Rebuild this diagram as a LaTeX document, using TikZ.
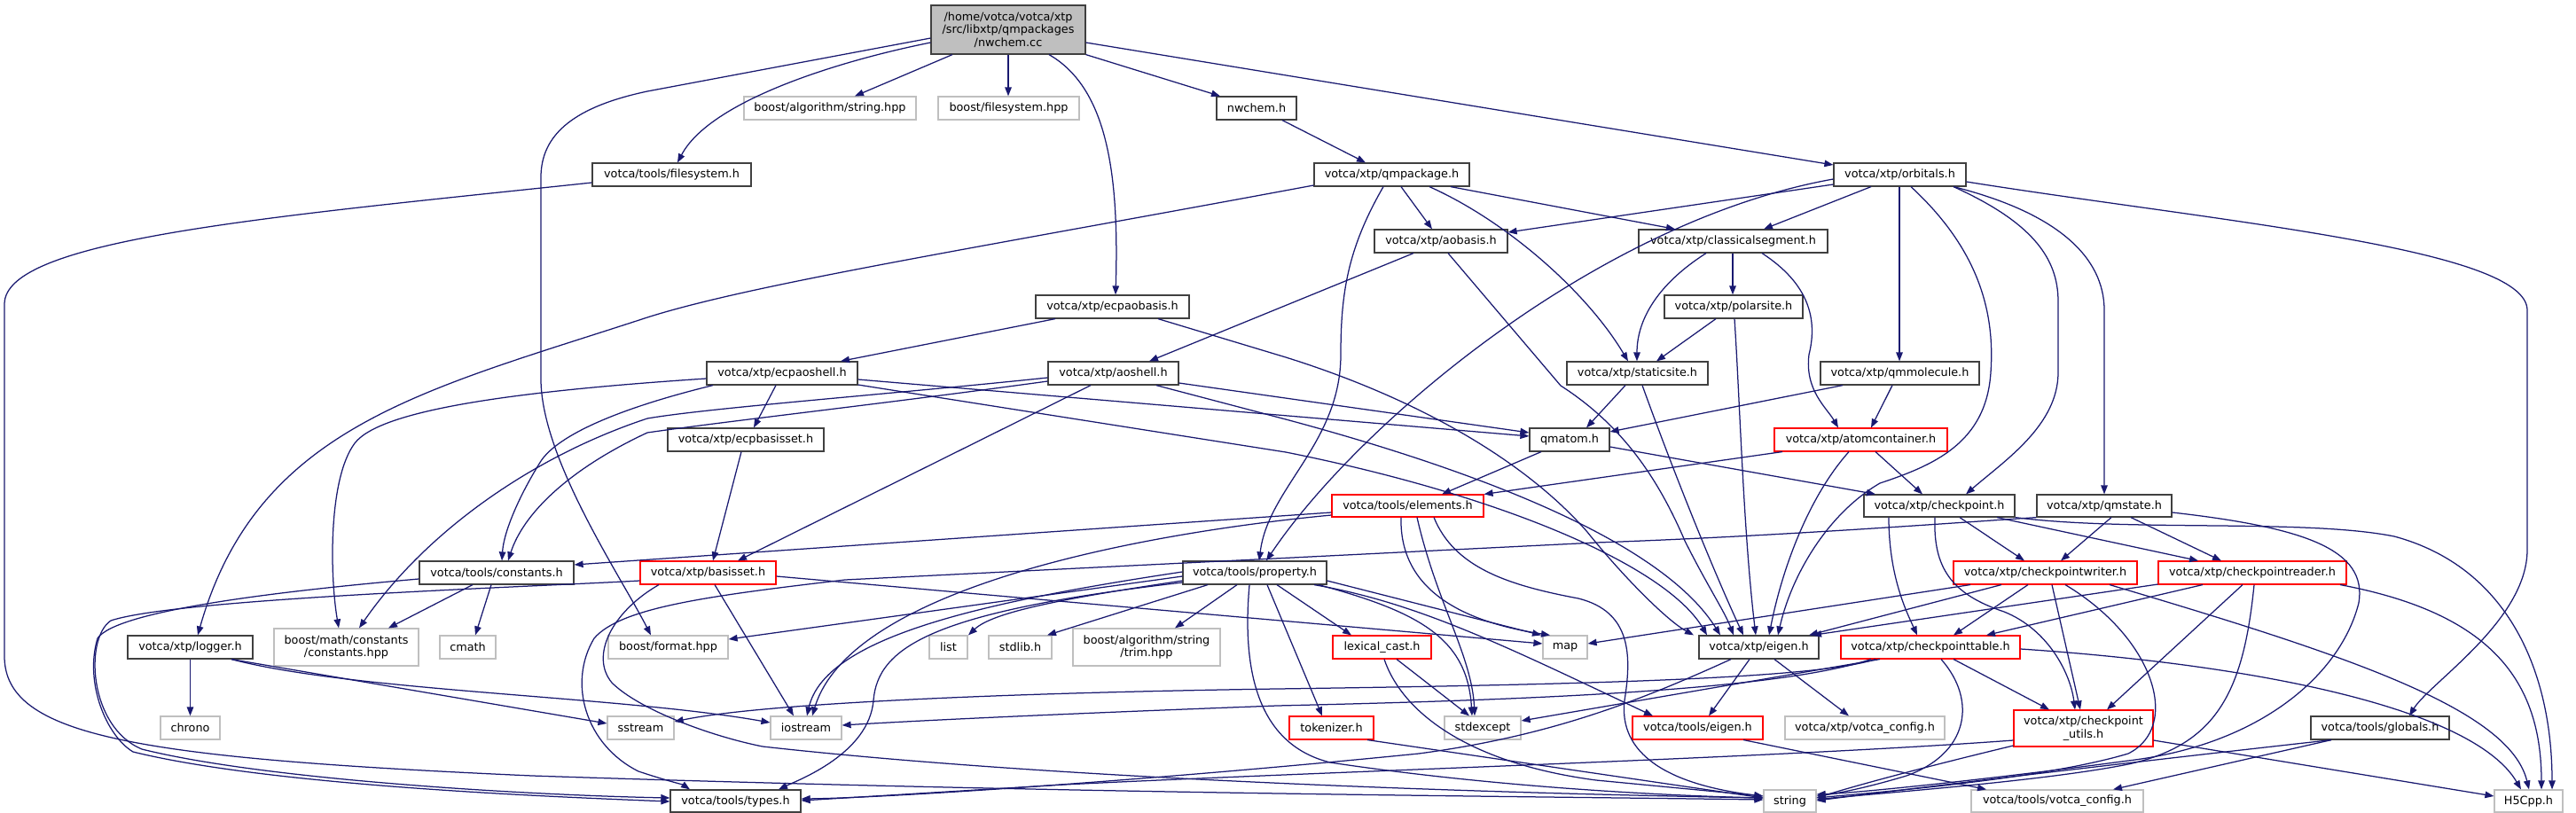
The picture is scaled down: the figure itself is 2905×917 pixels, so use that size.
\documentclass[tikz,border=0pt]{standalone}
\usepackage{fontspec}
\setmainfont{DejaVu Sans}
\usetikzlibrary{arrows.meta}
\definecolor{edgec}{RGB}{25,25,112}
\definecolor{bord}{RGB}{64,64,64}
\definecolor{extc}{RGB}{191,191,191}
\definecolor{truncc}{RGB}{255,0,0}
\definecolor{mainfill}{RGB}{191,191,191}
\newcommand\mk[7]{\node[#1,minimum width={#4-#3},minimum height={#6-#5}] (#2) at ({(#3+#4)/2},{(#5+#6)/2}) {#7};}
\begin{document}
\begin{tikzpicture}[x=1pt,y=-1pt,
  box/.style={draw=bord,line width=1.2pt,fill=white,inner sep=0pt,font=\fontsize{12.8}{14.7}\selectfont,align=center},
  extbox/.style={box,draw=extc},
  trbox/.style={box,draw=truncc,line width=1.1pt},
  mainbox/.style={box,fill=mainfill},
  e/.style={draw=edgec,line width=1.25pt,-{Triangle[length=10pt,width=7.5pt]}}]
\fill[white] (0,0) rectangle (2905,917);
\useasboundingbox (0,0) rectangle (2905,917);
% nodes
\mk{mainbox}{main}{1050}{1224}{6}{61}{/home/votca/votca/xtp\\/src/libxtp/qmpackages\\/nwchem.cc}
\mk{extbox}{strhpp}{839}{1033}{109}{135}{boost/algorithm/string.hpp}
\mk{extbox}{fshpp}{1058}{1217}{109}{135}{boost/filesystem.hpp}
\mk{box}{nwchemh}{1372}{1462}{109}{135}{nwchem.h}
\mk{box}{tfs}{668}{847}{184}{210}{votca/tools/filesystem.h}
\mk{box}{qmpkg}{1482}{1657}{184}{210}{votca/xtp/qmpackage.h}
\mk{box}{orb}{2068}{2217}{184}{210}{votca/xtp/orbitals.h}
\mk{box}{aob}{1550}{1700}{259}{285}{votca/xtp/aobasis.h}
\mk{box}{cseg}{1848}{2061}{259}{285}{votca/xtp/classicalsegment.h}
\mk{box}{ecpaob}{1168}{1341}{333}{359}{votca/xtp/ecpaobasis.h}
\mk{box}{polar}{1877}{2033}{333}{359}{votca/xtp/polarsite.h}
\mk{box}{ecpaos}{797}{967}{408}{434}{votca/xtp/ecpaoshell.h}
\mk{box}{aos}{1182}{1329}{408}{434}{votca/xtp/aoshell.h}
\mk{box}{ssite}{1767}{1926}{408}{434}{votca/xtp/staticsite.h}
\mk{box}{qmmol}{2053}{2232}{408}{434}{votca/xtp/qmmolecule.h}
\mk{box}{ecpbs}{753}{929}{483}{509}{votca/xtp/ecpbasisset.h}
\mk{box}{qmatom}{1725}{1815}{483}{509}{qmatom.h}
\mk{trbox}{atomc}{2001}{2196}{483}{509}{votca/xtp/atomcontainer.h}
\mk{trbox}{elem}{1502}{1673}{558}{583}{votca/tools/elements.h}
\mk{box}{ckpt}{2102}{2272}{558}{583}{votca/xtp/checkpoint.h}
\mk{box}{qmst}{2297}{2449}{558}{583}{votca/xtp/qmstate.h}
\mk{box}{cst}{473}{647}{633}{659}{votca/tools/constants.h}
\mk{trbox}{bset}{722}{875}{633}{659}{votca/xtp/basisset.h}
\mk{box}{prop}{1334}{1496}{633}{659}{votca/tools/property.h}
\mk{trbox}{ckw}{2203}{2410}{633}{659}{votca/xtp/checkpointwriter.h}
\mk{trbox}{ckr}{2434}{2646}{633}{659}{votca/xtp/checkpointreader.h}
\mk{box}{logger}{144}{285}{717}{743}{votca/xtp/logger.h}
\mk{extbox}{bmath}{309}{472}{709}{751}{boost/math/constants\\/constants.hpp}
\mk{extbox}{cmath}{496}{559}{717}{743}{cmath}
\mk{extbox}{fmt}{686}{821}{717}{743}{boost/format.hpp}
\mk{extbox}{nlist}{1048}{1091}{717}{743}{list}
\mk{extbox}{stdlib}{1115}{1186}{717}{743}{stdlib.h}
\mk{extbox}{trim}{1210}{1376}{709}{751}{boost/algorithm/string\\/trim.hpp}
\mk{trbox}{lexc}{1503}{1614}{717}{743}{lexical\_cast.h}
\mk{extbox}{nmap}{1740}{1790}{717}{743}{map}
\mk{box}{xeig}{1916}{2051}{717}{743}{votca/xtp/eigen.h}
\mk{trbox}{ckt}{2076}{2278}{717}{743}{votca/xtp/checkpointtable.h}
\mk{extbox}{chrono}{181}{248}{808}{834}{chrono}
\mk{extbox}{sstream}{685}{760}{808}{834}{sstream}
\mk{extbox}{iostream}{869}{949}{808}{834}{iostream}
\mk{trbox}{tok}{1454}{1549}{808}{834}{tokenizer.h}
\mk{extbox}{stdexc}{1629}{1715}{808}{834}{stdexcept}
\mk{trbox}{teig}{1841}{1988}{808}{834}{votca/tools/eigen.h}
\mk{extbox}{xcfg}{2013}{2193}{808}{834}{votca/xtp/votca\_config.h}
\mk{trbox}{cku}{2271}{2428}{801}{842}{votca/xtp/checkpoint\\\_utils.h}
\mk{box}{glob}{2606}{2762}{808}{834}{votca/tools/globals.h}
\mk{box}{types}{756}{903}{891}{916}{votca/tools/types.h}
\mk{extbox}{nstring}{1989}{2048}{891}{916}{string}
\mk{extbox}{tcfg}{2223}{2417}{891}{916}{votca/tools/votca\_config.h}
\mk{extbox}{h5}{2813}{2890}{891}{916}{H5Cpp.h}
% edges from main
\draw[e] (main.west |- 0,48) .. controls (940,70) and (800,115) .. (764,0 |- tfs.north);
\draw[e] (1074,0 |- main.south) -- (964,0 |- strhpp.north);
\draw[e] (1137,0 |- main.south) -- (1137,0 |- fshpp.north);
\draw[e] (main.south east) -- (1376,0 |- nwchemh.north);
\draw[e] (main.east |- 0,48) -- (orb.west |- 0,186);
\draw[e] (1183,0 |- main.south) .. controls (1250,100) and (1262,200) .. (1258,0 |- ecpaob.north);
\draw[e] (main.west |- 0,43) -- (730,103) .. controls (650,120) and (610,150) .. (610,200) -- (610,430) .. controls (612,520) and (700,650) .. (734,0 |- fmt.north);
\draw[e] (tfs.west |- 0,206) .. controls (300,245) and (5,270) .. (5,343) -- (5,740) .. controls (5,830) and (150,855) .. (600,875) .. controls (1200,895) and (1700,898) .. (nstring.west |- 0,902);
\draw[e] (1446,0 |- nwchemh.south) -- (1540,0 |- qmpkg.north);
% qmpackage
\draw[e] (qmpkg.west |- 0,209) .. controls (1100,280) and (850,320) .. (730,358) .. controls (480,440) and (290,480) .. (223,0 |- logger.north);
\draw[e] (1580,0 |- qmpkg.south) -- (1615,0 |- aob.north);
\draw[e] (1636,0 |- qmpkg.south) -- (1889,0 |- cseg.north);
\draw[e] (1612,0 |- qmpkg.south) .. controls (1700,250) and (1790,330) .. (1836,0 |- ssite.north);
\draw[e] (1560,0 |- qmpkg.south) .. controls (1520,280) and (1512,330) .. (1512,400) .. controls (1512,500) and (1430,550) .. (1420,0 |- prop.north);
% orbitals
\draw[e] (orb.west |- 0,208) -- (aob.east |- 0,262);
\draw[e] (2110,0 |- orb.south) -- (1989,0 |- cseg.north);
\draw[e] (orb.west |- 0,202) .. controls (1800,250) and (1530,480) .. (1428,0 |- prop.north);
\draw[e] (2142,0 |- orb.south) -- (2142,0 |- qmmol.north);
\draw[e] (2155,0 |- orb.south) .. controls (2230,280) and (2250,350) .. (2245,420) .. controls (2240,500) and (2180,525) .. (2120,545) .. controls (2060,580) and (2020,650) .. (2005,0 |- xeig.north);
\draw[e] (2203,0 |- orb.south) .. controls (2290,250) and (2321,290) .. (2321,340) -- (2321,420) .. controls (2321,480) and (2260,520) .. (2217,0 |- ckpt.north);
\draw[e] (2203,0 |- orb.south) .. controls (2320,240) and (2373,290) .. (2373,350) -- (2373,0 |- qmst.north);
\draw[e] (orb.east |- 0,205) .. controls (2500,250) and (2850,280) .. (2850,350) -- (2850,620) .. controls (2850,700) and (2740,770) .. (2717,0 |- glob.north);
% aobasis, classicalsegment, ecpaobasis, polarsite, qmmolecule
\draw[e] (1594,0 |- aob.south) -- (1296,0 |- aos.north);
\draw[e] (1633,0 |- aob.south) -- (1760,435) .. controls (1830,480) and (1870,540) .. (1900,610) .. controls (1925,660) and (1945,690) .. (1955,0 |- xeig.north);
\draw[e] (1924,0 |- cseg.south) .. controls (1870,320) and (1846,360) .. (1846,0 |- ssite.north);
\draw[e] (1954,0 |- cseg.south) -- (1954,0 |- polar.north);
\draw[e] (1987,0 |- cseg.south) .. controls (2040,320) and (2050,360) .. (2040,400) .. controls (2035,440) and (2060,460) .. (2073,0 |- atomc.north);
\draw[e] (1190,0 |- ecpaob.south) -- (948,0 |- ecpaos.north);
\draw[e] (1306,0 |- ecpaob.south) -- (1450,403) .. controls (1600,450) and (1720,520) .. (1790,600) .. controls (1830,650) and (1880,700) .. (1910,0 |- xeig.north);
\draw[e] (1935,0 |- polar.south) -- (1868,0 |- ssite.north);
\draw[e] (1956,0 |- polar.south) .. controls (1962,450) and (1966,600) .. (1980,0 |- xeig.north);
\draw[e] (2078,0 |- qmmol.south) -- (qmatom.east |- 0,487);
\draw[e] (2134,0 |- qmmol.south) -- (2110,0 |- atomc.north);
% ecpaoshell, aoshell
\draw[e] (875,0 |- ecpaos.south) -- (850,0 |- ecpbs.north);
\draw[e] (ecpaos.east |- 0,428) -- (qmatom.west |- 0,492);
\draw[e] (aos.east |- 0,432) -- (qmatom.west |- 0,488);
\draw[e] (ecpaos.east |- 0,434) -- (1450,510) .. controls (1700,560) and (1880,640) .. (1925,0 |- xeig.north);
\draw[e] (1304,0 |- aos.south) -- (1450,473) .. controls (1700,540) and (1880,620) .. (1940,0 |- xeig.north);
\draw[e] (ecpaos.west |- 0,427) .. controls (600,440) and (430,460) .. (400,500) .. controls (370,540) and (372,650) .. (382,0 |- bmath.north);
\draw[e] (804,0 |- ecpaos.south) .. controls (700,460) and (630,490) .. (610,520) .. controls (585,560) and (568,600) .. (566,0 |- cst.north);
\draw[e] (aos.west |- 0,426) .. controls (1000,445) and (800,460) .. (730,472) .. controls (600,515) and (480,600) .. (405,0 |- bmath.north);
\draw[e] (aos.west |- 0,430) .. controls (1000,455) and (820,475) .. (730,488) .. controls (640,530) and (590,580) .. (573,0 |- cst.north);
\draw[e] (1230,0 |- aos.south) -- (832,0 |- bset.north);
\draw[e] (836,0 |- ecpbs.south) -- (804,0 |- bset.north);
% staticsite, qmatom, atomcontainer
\draw[e] (1833,0 |- ssite.south) -- (1789,0 |- qmatom.north);
\draw[e] (1852,0 |- ssite.south) .. controls (1890,540) and (1935,650) .. (1966,0 |- xeig.north);
\draw[e] (1738,0 |- qmatom.south) -- (1626,0 |- elem.north);
\draw[e] (qmatom.east |- 0,504) -- (2115,0 |- ckpt.north);
\draw[e] (2010,0 |- atomc.south) -- (elem.north east);
\draw[e] (2115,0 |- atomc.south) -- (2168,0 |- ckpt.north);
\draw[e] (2085,0 |- atomc.south) .. controls (2040,560) and (2010,640) .. (1995,0 |- xeig.north);
% elements
\draw[e] (elem.west |- 0,578) -- (cst.east |- 0,637);
\draw[e] (elem.west |- 0,581) .. controls (1300,600) and (960,660) .. (916,0 |- iostream.north);
\draw[e] (1580,0 |- elem.south) .. controls (1578,660) and (1640,700) .. (1748,0 |- nmap.north);
\draw[e] (1598,0 |- elem.south) .. controls (1620,680) and (1660,740) .. (1663,0 |- stdexc.north);
\draw[e] (1617,0 |- elem.south) .. controls (1640,640) and (1700,660) .. (1780,675) .. controls (1840,690) and (1840,740) .. (1832,790) .. controls (1825,850) and (1880,885) .. (nstring.west |- 0,898);
% property
\draw[e] (prop.west |- 0,650) -- (fmt.east |- 0,721);
\draw[e] (prop.west |- 0,655) .. controls (1200,675) and (1120,690) .. (1092,0 |- nlist.north);
\draw[e] (1362,0 |- prop.south) -- (1181,0 |- stdlib.north);
\draw[e] (1395,0 |- prop.south) -- (1325,0 |- trim.north);
\draw[e] (1440,0 |- prop.south) -- (1524,0 |- lexc.north);
\draw[e] (prop.east |- 0,655) -- (1738,0 |- nmap.north);
\draw[e] (1429,0 |- prop.south) -- (1491,0 |- tok.north);
\draw[e] (1487,0 |- prop.south) .. controls (1600,690) and (1655,720) .. (1660,0 |- stdexc.north);
\draw[e] (1482,0 |- prop.south) .. controls (1600,680) and (1700,730) .. (1864,0 |- teig.north);
\draw[e] (prop.west |- 0,645) .. controls (1100,680) and (930,720) .. (910,0 |- iostream.north);
\draw[e] (prop.west |- 0,657) .. controls (1050,690) and (990,730) .. (985,790) .. controls (980,850) and (900,880) .. (878,0 |- types.north);
\draw[e] (1409,0 |- prop.south) .. controls (1400,760) and (1420,840) .. (1500,860) .. controls (1700,890) and (1900,898) .. (nstring.west |- 0,900);
% basisset, constants, logger
\draw[e] (806,0 |- bset.south) -- (895,0 |- iostream.north);
\draw[e] (bset.east |- 0,650) -- (nmap.west |- 0,726);
\draw[e] (743,0 |- bset.south) .. controls (690,690) and (665,740) .. (690,770) .. controls (720,800) and (800,830) .. (860,842) .. controls (1200,880) and (1700,895) .. (nstring.west |- 0,900);
\draw[e] (bset.west |- 0,655) .. controls (600,662) and (200,675) .. (125,700) .. controls (95,720) and (100,820) .. (160,845) .. controls (300,880) and (600,897) .. (types.west |- 0,900);
\draw[e] (533,0 |- cst.south) -- (438,0 |- bmath.north);
\draw[e] (554,0 |- cst.south) -- (536,0 |- cmath.north);
\draw[e] (cst.west |- 0,653) .. controls (300,668) and (130,690) .. (110,720) .. controls (95,770) and (120,830) .. (150,848) .. controls (300,885) and (600,898) .. (types.west |- 0,904);
\draw[e] (214.5,0 |- logger.south) -- (214.5,0 |- chrono.north);
\draw[e] (261,0 |- logger.south) -- (sstream.west |- 0,816);
\draw[e] (261,0 |- logger.south) .. controls (400,780) and (700,785) .. (iostream.west |- 0,815);
% xtp eigen
\draw[e] (1952,0 |- xeig.south) .. controls (1850,790) and (1750,830) .. (1600,850) .. controls (1300,880) and (1000,900) .. (types.east |- 0,901);
\draw[e] (1973,0 |- xeig.south) -- (1927,0 |- teig.north);
\draw[e] (2001,0 |- xeig.south) -- (2085,0 |- xcfg.north);
% checkpointtable
\draw[e] (2115,0 |- ckt.south) .. controls (2050,765) and (1800,772) .. (1440,777) .. controls (1100,782) and (850,795) .. (sstream.east |- 0,814);
\draw[e] (2110,0 |- ckt.south) .. controls (2000,780) and (1700,790) .. (1440,796) .. controls (1200,805) and (1050,812) .. (iostream.east |- 0,818);
\draw[e] (2120,0 |- ckt.south) -- (stdexc.east |- 0,813);
\draw[e] (2203,0 |- ckt.south) -- (2311,0 |- cku.north);
\draw[e] (2189,0 |- ckt.south) .. controls (2230,790) and (2220,850) .. (2150,875) .. controls (2100,890) and (2070,895) .. (nstring.east |- 0,898);
\draw[e] (ckt.east |- 0,732) .. controls (2550,750) and (2790,800) .. (2843,0 |- h5.north);
% checkpointwriter
\draw[e] (2222,0 |- ckw.south) -- (nmap.east |- 0,726);
\draw[e] (2257,0 |- ckw.south) -- (2040,0 |- xeig.north);
\draw[e] (2287,0 |- ckw.south) -- (2203,0 |- ckt.north);
\draw[e] (2314,0 |- ckw.south) -- (2346,0 |- cku.north);
\draw[e] (2329,0 |- ckw.south) .. controls (2430,720) and (2460,820) .. (2400,850) .. controls (2300,880) and (2100,895) .. (nstring.east |- 0,900);
\draw[e] (2379,0 |- ckw.south) .. controls (2650,740) and (2830,800) .. (2852,0 |- h5.north);
% checkpointreader
\draw[e] (ckr.west |- 0,659) -- (2044,0 |- xeig.north);
\draw[e] (2484,0 |- ckr.south) -- (2240,0 |- ckt.north);
\draw[e] (2529,0 |- ckr.south) -- (2376,0 |- cku.north);
\draw[e] (2542,0 |- ckr.south) .. controls (2530,780) and (2500,840) .. (2400,862) .. controls (2300,882) and (2100,896) .. (nstring.east |- 0,902);
\draw[e] (2639,0 |- ckr.south) .. controls (2800,690) and (2866,760) .. (2866,0 |- h5.north);
% checkpoint, qmstate
\draw[e] (2210,0 |- ckpt.south) -- (2283,0 |- ckw.north);
\draw[e] (2252,0 |- ckpt.south) -- (2479,0 |- ckr.north);
\draw[e] (2130,0 |- ckpt.south) .. controls (2130,650) and (2150,690) .. (2162,0 |- ckt.north);
\draw[e] (2182,0 |- ckpt.south) .. controls (2180,640) and (2200,670) .. (2260,690) .. controls (2310,710) and (2335,760) .. (2340,0 |- cku.north);
\draw[e] (ckpt.south east) .. controls (2400,600) and (2600,585) .. (2700,605) .. controls (2830,640) and (2878,760) .. (2878,0 |- h5.north);
\draw[e] (2381,0 |- qmst.south) -- (2324,0 |- ckw.north);
\draw[e] (2403,0 |- qmst.south) -- (2505,0 |- ckr.north);
\draw[e] (qmst.east |- 0,578) .. controls (2600,595) and (2670,620) .. (2660,680) .. controls (2640,760) and (2550,840) .. (2400,858) .. controls (2250,878) and (2100,894) .. (nstring.east |- 0,896);
\draw[e] (qmst.south west) .. controls (2200,590) and (2000,605) .. (1800,612) -- (953,654) .. controls (800,672) and (700,685) .. (670,720) .. controls (640,770) and (660,840) .. (720,870) .. controls (750,880) and (770,885) .. (778,0 |- types.north);
% leaves
\draw[e] (1575,0 |- lexc.south) -- (1657,0 |- stdexc.north);
\draw[e] (1561,0 |- lexc.south) .. controls (1580,800) and (1650,860) .. (1800,880) -- (nstring.west |- 0,898);
\draw[e] (1542,0 |- tok.south) -- (nstring.west |- 0,900);
\draw[e] (1966,0 |- teig.south) -- (2240,0 |- tcfg.north);
\draw[e] (cku.west |- 0,835) .. controls (2000,855) and (1500,870) .. (1200,885) -- (types.east |- 0,903);
\draw[e] (cku.west |- 0,841) .. controls (2150,870) and (2080,890) .. (nstring.east |- 0,900);
\draw[e] (cku.east |- 0,835) -- (h5.west |- 0,898);
\draw[e] (2629,0 |- glob.south) .. controls (2400,860) and (2150,890) .. (nstring.east |- 0,903);
\draw[e] (2629,0 |- glob.south) -- (2383,0 |- tcfg.north);
\end{tikzpicture}
\end{document}
